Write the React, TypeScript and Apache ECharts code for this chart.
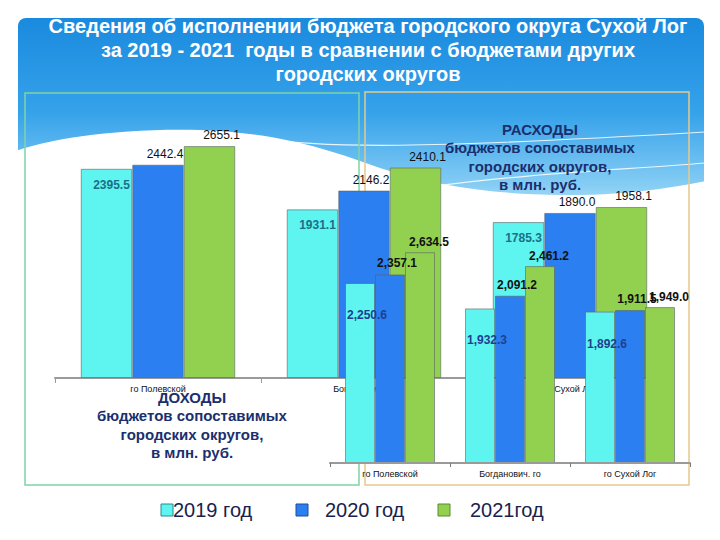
import React, { useEffect, useRef } from "react";
import * as echarts from "echarts";

const categories = ["го Полевской", "Богданович. го", "го Сухой Лог"];
const legendNames = ["2019 год", "2020 год", "2021год"];

// back chart (large)
const backY2019 = [2395.5, 1931.1, 1785.3];
const backY2020 = [2442.4, 2146.2, 1890.0];
const backY2021 = [2655.1, 2410.1, 1958.1];

// front chart (small, overlaid)
const frontY2019 = [2250.6, 1932.3, 1892.6];
const frontY2020 = [2357.1, 2091.2, 1911.5];
const frontY2021 = [2634.5, 2461.2, 1949.0];

const titleLines = [
  "Сведения об исполнении бюджета городского округа Сухой Лог",
  "за 2019 - 2021  годы в сравнении с бюджетами других",
  "городских округов",
];
const incomeLines = ["ДОХОДЫ", "бюджетов сопоставимых", "городских округов,", "в млн. руб."];
const expenseLines = ["РАСХОДЫ", "бюджетов сопоставимых", "городских округов,", "в млн. руб."];

const C2019 = "#5ef4f0";
const C2020 = "#2b7ff0";
const C2021 = "#92d050";

const fmtComma = (v: number) =>
  v.toLocaleString("en-US", { minimumFractionDigits: 1, maximumFractionDigits: 1 });

export default function App() {
  const ref = useRef<HTMLDivElement>(null);
  useEffect(() => {
    document.body.style.margin = "0";
    if (!ref.current) return;
    echarts.graphic.registerShape(
      "wave",
      echarts.graphic.extendPath(
        "M10 153 C 50 138, 120 128, 200 130 C 280 133, 330 150, 380 168 C 440 188, 500 194, 560 195 C 630 196, 680 186, 712 180 L 712 232 L 10 232 Z",
        {}
      )
    );
    echarts.graphic.registerShape(
      "thinline1",
      echarts.graphic.extendPath("M 240 136 C 320 150, 430 148, 705 132", {})
    );
    echarts.graphic.registerShape(
      "thinline2",
      echarts.graphic.extendPath("M 430 187 C 520 174, 620 170, 705 163", {})
    );
    const chart = echarts.init(ref.current, null, { renderer: "svg" });
    const font = "'Liberation Sans', Arial, sans-serif";
    const txtColor = "#1b2f6e";

    const graphic: any[] = [
      {
        type: "rect",
        shape: { x: 18, y: 18, width: 686, height: 210, r: 8 },
        style: {
          fill: new echarts.graphic.LinearGradient(0, 0, 0, 1, [
            { offset: 0, color: "#1a8ade" },
            { offset: 0.45, color: "#35a2ea" },
            { offset: 0.8, color: "#86cdf4" },
            { offset: 1, color: "#d8effb" },
          ]),
        },
        z: -20,
      },
      { type: "wave", x: 0, y: 0, style: { fill: "#ffffff" }, z: -19 },
      { type: "thinline1", x: 0, y: 0, style: { fill: "none", stroke: "rgba(255,255,255,0.85)", lineWidth: 1.2 }, z: -18 },
      { type: "thinline2", x: 0, y: 0, style: { fill: "none", stroke: "rgba(255,255,255,0.85)", lineWidth: 1.2 }, z: -18 },
      {
        type: "rect",
        shape: { x: 25, y: 93, width: 334, height: 392 },
        style: { fill: "none", stroke: "#7fd3a6", lineWidth: 1.5 },
        z: -15,
      },
      {
        type: "rect",
        shape: { x: 365, y: 92, width: 324, height: 393 },
        style: { fill: "none", stroke: "#e6c98c", lineWidth: 1.5 },
        z: -15,
      },
    ];
    titleLines.forEach((t, i) => {
      graphic.push({
        type: "text",
        x: 368,
        y: 26 + i * 24,
        style: {
          text: t,
          fill: "#ffffff",
          font: "bold 20px 'Liberation Sans', Arial, sans-serif",
          textAlign: "center",
          textVerticalAlign: "middle",
        },
        z: 50,
      });
    });
    const incY = [397, 415, 434, 452];
    incomeLines.forEach((t, i) => {
      graphic.push({
        type: "text",
        x: 192,
        y: incY[i],
        style: {
          text: t,
          fill: txtColor,
          font: `bold 15px ${font}`,
          textAlign: "center",
          textVerticalAlign: "middle",
        },
        z: 50,
      });
    });
    const expY = [129, 147, 166, 184];
    expenseLines.forEach((t, i) => {
      graphic.push({
        type: "text",
        x: 540,
        y: expY[i],
        style: {
          text: t,
          fill: txtColor,
          font: `bold 15px ${font}`,
          textAlign: "center",
          textVerticalAlign: "middle",
        },
        z: 50,
      });
    });
    // legend
    const legSq = [161, 296, 438];
    const legTx = [173, 325, 470];
    const legCol = [C2019, C2020, C2021];
    const legBorder = ["#2a8a90", "#1a4f9a", "#5a8a30"];
    legendNames.forEach((n, i) => {
      graphic.push({
        type: "rect",
        shape: { x: legSq[i], y: 504, width: 12, height: 12 },
        style: { fill: legCol[i], stroke: legBorder[i], lineWidth: 1 },
        z: 50,
      });
      graphic.push({
        type: "text",
        x: legTx[i],
        y: 510,
        style: {
          text: n,
          fill: "#18224e",
          font: `20px ${font}`,
          textAlign: "left",
          textVerticalAlign: "middle",
        },
        z: 50,
      });
    });

    const barBase = (
      name: string,
      data: number[],
      color: string,
      idx: number,
      label: any,
      z: number
    ) => ({
      name,
      type: "bar",
      xAxisIndex: idx,
      yAxisIndex: idx,
      data,
      barGap: "0%",
      barCategoryGap: "25%",
      z,
      itemStyle: { color, borderColor: "rgba(90,100,100,0.6)", borderWidth: 1 },
      label,
    });

    const option: any = {
      animation: false,
      backgroundColor: "#ffffff",
      graphic,
      grid: [
        { left: 55, top: 116, width: 618, height: 262 },
        { left: 330, top: 223, width: 360, height: 240 },
      ],
      xAxis: [
        {
          gridIndex: 0,
          type: "category",
          data: categories,
          z: 1,
          axisLine: { lineStyle: { color: "#9a9a9a", width: 2 } },
          axisTick: { show: true, length: 5, lineStyle: { color: "#9a9a9a" } },
          axisLabel: { fontSize: 9, color: "#111", margin: 6, fontFamily: font },
        },
        {
          gridIndex: 1,
          type: "category",
          data: categories,
          z: 6,
          axisLine: { lineStyle: { color: "#9a9a9a", width: 2 } },
          axisTick: { show: true, length: 4, lineStyle: { color: "#777" } },
          axisLabel: { fontSize: 9, color: "#111", margin: 6, fontFamily: font },
        },
      ],
      yAxis: [
        { gridIndex: 0, type: "value", min: 0, max: 3000, show: false },
        { gridIndex: 1, type: "value", min: 0, max: 3000, show: false },
      ],
      series: [
        barBase("2019 год", backY2019, C2019, 0, {
          show: true, position: "insideTop", distance: 10, offset: [5, 0],
          formatter: (p: any) => p.value.toFixed(1),
          color: "#1c6f86", fontWeight: "bold", fontSize: 12, fontFamily: font,
        }, 2),
        barBase("2020 год", backY2020, C2020, 0, {
          show: true, position: "top", distance: 5, offset: [7, 0],
          formatter: (p: any) => p.value.toFixed(1),
          color: "#111", fontSize: 12, fontFamily: font,
        }, 2),
        barBase("2021год", backY2021, C2021, 0, {
          show: true, position: "top", distance: 5, offset: [12, 0],
          formatter: (p: any) => p.value.toFixed(1),
          color: "#111", fontSize: 12, fontFamily: font,
        }, 2),
        barBase("2019 год", frontY2019, C2019, 1, {
          show: true, position: "insideTop", distance: 26, offset: [7, 0],
          formatter: (p: any) => fmtComma(p.value),
          color: "#1e3f90", fontWeight: "bold", fontSize: 12, fontFamily: font,
        }, 5),
        barBase("2020 год", frontY2020, C2020, 1, {
          show: true, position: "top", distance: 5, offset: [7, 0],
          formatter: (p: any) => fmtComma(p.value),
          color: "#111", fontWeight: "bold", fontSize: 12, fontFamily: font,
        }, 5),
        barBase("2021год", frontY2021, C2021, 1, {
          show: true, position: "top", distance: 4, offset: [9, 0],
          formatter: (p: any) => fmtComma(p.value),
          color: "#111", fontWeight: "bold", fontSize: 12, fontFamily: font,
        }, 5),
      ],
    };
    chart.setOption(option);
    return () => chart.dispose();
  }, []);
  return <div ref={ref} style={{ width: 720, height: 540 }} />;
}
